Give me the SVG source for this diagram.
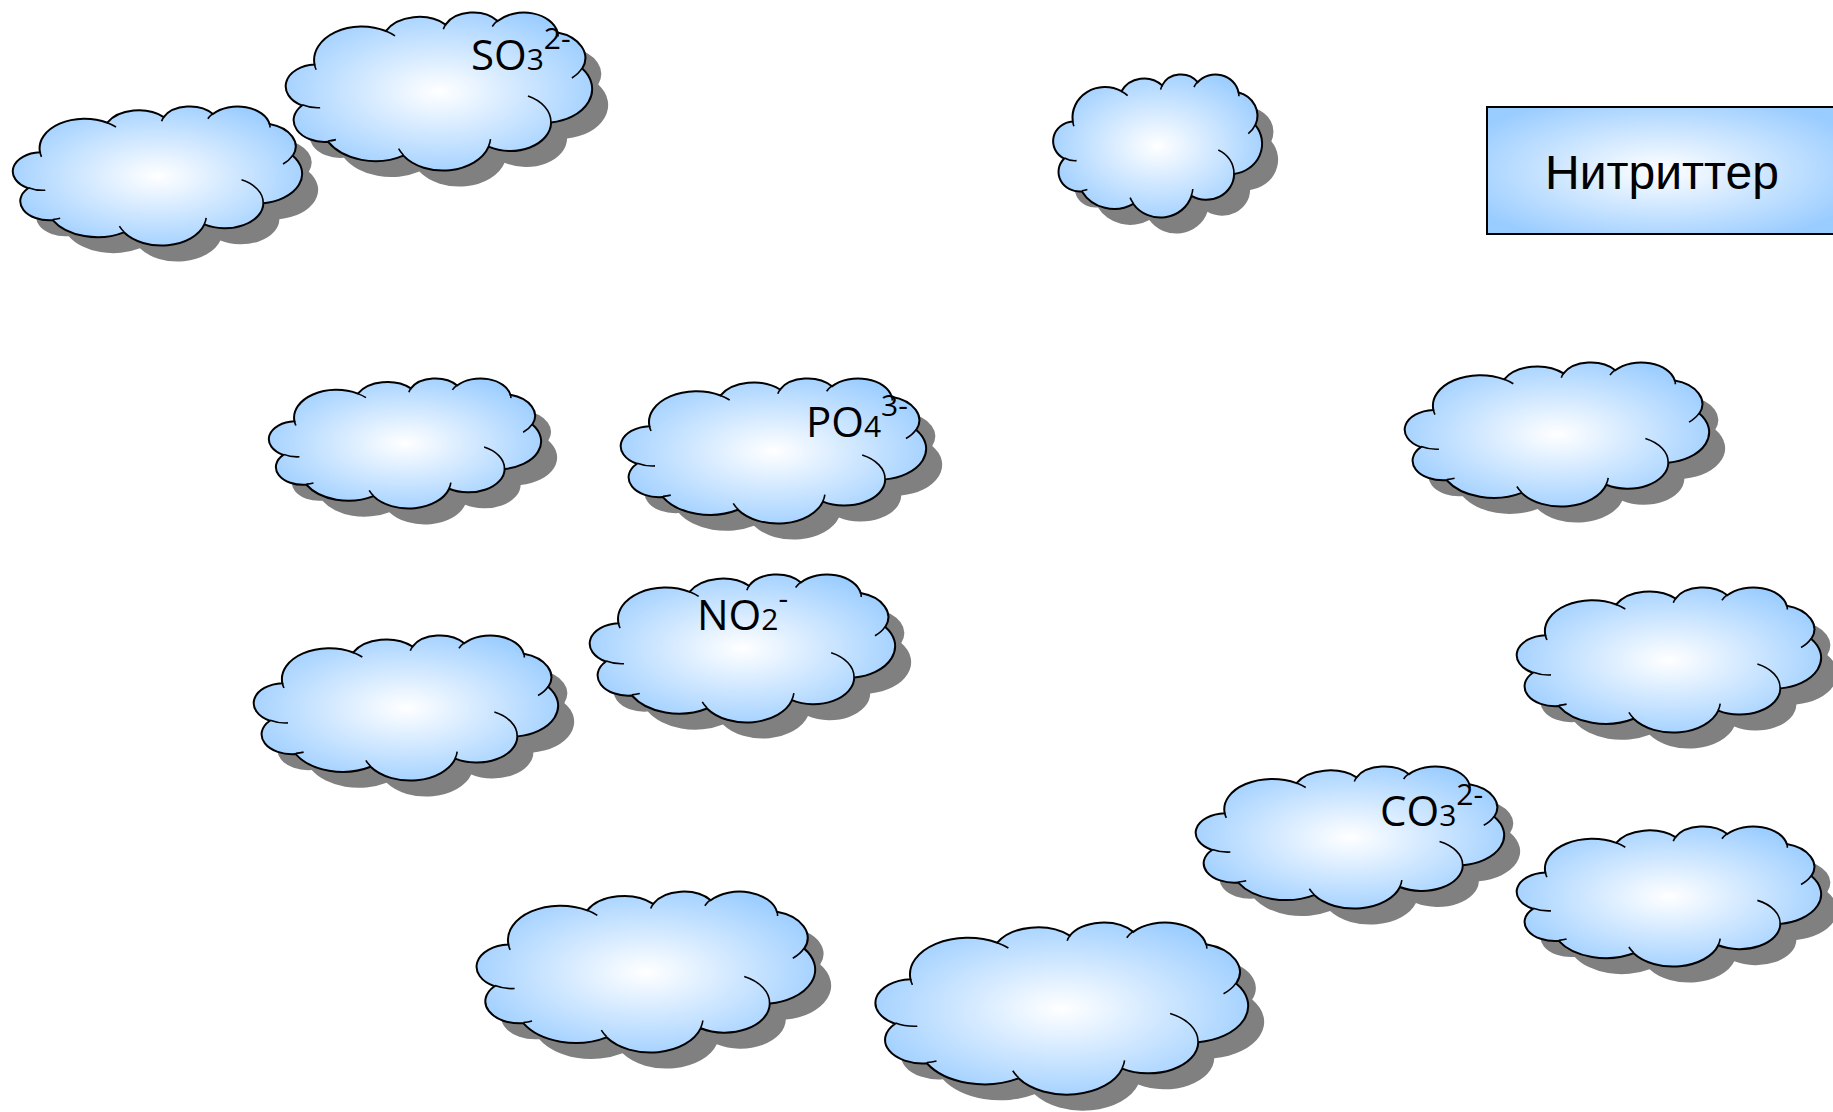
<svg xmlns="http://www.w3.org/2000/svg" xmlns:xlink="http://www.w3.org/1999/xlink" width="1833" height="1112" viewBox="0 0 1833 1112">
<style>
.shadow{fill:#808080;stroke:none}
.body{fill:url(#cg);stroke:#000;stroke-width:2}
.detail{fill:none;stroke:#000;stroke-width:1.6}
.ion{font-family:"Open Sans","DejaVu Sans",sans-serif;font-size:42px;fill:#000}
.small{font-size:30px}
.label{font-family:"Liberation Sans",Arial,sans-serif;font-size:48px;fill:#000;text-anchor:middle}
</style>
<defs>
<radialGradient id="cg" cx="0.5" cy="0.5" r="0.58">
<stop offset="0" stop-color="#FFFFFF"/>
<stop offset="1" stop-color="#99CCFF"/>
</radialGradient>
<radialGradient id="rg" cx="0.5" cy="0.5" r="0.62">
<stop offset="0" stop-color="#FFFFFF"/>
<stop offset="1" stop-color="#99CCFF"/>
</radialGradient>
<path id="cs" vector-effect="non-scaling-stroke" d="M3900 14370A6753 9190 0 0 1 14006 5203A5333 7267 0 0 1 22457 3433A4365 5945 0 0 1 29834 2482A4857 6595 0 0 1 38319 5577A5333 7273 0 0 1 41820 15460A6775 9220 0 0 1 37405 30203A5785 7867 0 0 1 28557 36813A6752 9215 0 0 1 16482 39264A7720 10543 0 0 1 5806 35470A4360 5918 0 0 1 2115 25549A4345 5945 0 0 1 3900 14370Z"/>
<path id="cd" vector-effect="non-scaling-stroke" d="M4693 26177A4345 5945 0 0 1 2160 25380M6928 34899A4360 5918 0 0 1 5820 35280M16478 39090A6752 9215 0 0 1 15810 37350M28827 34751A6752 9215 0 0 1 28560 36660M34129 22954A5785 7867 0 0 1 37380 30090M41798 15354A5333 7273 0 0 1 40351 18030M38324 5426A4857 6595 0 0 1 38400 6689M29078 3952A4857 6595 0 0 1 29820 2338M22141 4720A4365 5945 0 0 1 22500 3330M14000 5192A6753 9190 0 0 1 15299 6540M4127 15789A6753 9190 0 0 1 3900 14370"/>
</defs>

<g id="cloud-a">
<use xlink:href="#cs" class="shadow" transform="translate(30 122) scale(0.0066667 0.0032176)"/>
<use xlink:href="#cs" class="body" transform="translate(14 106) scale(0.0066667 0.0032176)"/>
<use xlink:href="#cd" class="detail" transform="translate(14 106) scale(0.0066667 0.0032176)"/>
</g>
<g id="cloud-so3">
<use xlink:href="#cs" class="shadow" transform="translate(303 28) scale(0.0070602 0.0036574)"/>
<use xlink:href="#cs" class="body" transform="translate(287 12) scale(0.0070602 0.0036574)"/>
<use xlink:href="#cd" class="detail" transform="translate(287 12) scale(0.0070602 0.0036574)"/>
<text class="ion" x="471" y="70">SO<tspan class="small">3</tspan><tspan class="small" dy="-21">2-</tspan></text>
</g>
<g id="cloud-c">
<use xlink:href="#cs" class="shadow" transform="translate(1070 90) scale(0.0048148 0.0033102)"/>
<use xlink:href="#cs" class="body" transform="translate(1054 74) scale(0.0048148 0.0033102)"/>
<use xlink:href="#cd" class="detail" transform="translate(1054 74) scale(0.0048148 0.0033102)"/>
</g>
<g id="cloud-d">
<use xlink:href="#cs" class="shadow" transform="translate(286 394) scale(0.0062731 0.0030093)"/>
<use xlink:href="#cs" class="body" transform="translate(270 378) scale(0.0062731 0.0030093)"/>
<use xlink:href="#cd" class="detail" transform="translate(270 378) scale(0.0062731 0.0030093)"/>
</g>
<g id="cloud-po4">
<use xlink:href="#cs" class="shadow" transform="translate(638 394) scale(0.0070370 0.0033565)"/>
<use xlink:href="#cs" class="body" transform="translate(622 378) scale(0.0070370 0.0033565)"/>
<use xlink:href="#cd" class="detail" transform="translate(622 378) scale(0.0070370 0.0033565)"/>
<text class="ion" x="806" y="437">PO<tspan class="small">4</tspan><tspan class="small" dy="-21">3-</tspan></text>
</g>
<g id="cloud-f">
<use xlink:href="#cs" class="shadow" transform="translate(1422 378) scale(0.0070139 0.0033333)"/>
<use xlink:href="#cs" class="body" transform="translate(1406 362) scale(0.0070139 0.0033333)"/>
<use xlink:href="#cd" class="detail" transform="translate(1406 362) scale(0.0070139 0.0033333)"/>
</g>
<g id="cloud-g">
<use xlink:href="#cs" class="shadow" transform="translate(271 651) scale(0.0070139 0.0033565)"/>
<use xlink:href="#cs" class="body" transform="translate(255 635) scale(0.0070139 0.0033565)"/>
<use xlink:href="#cd" class="detail" transform="translate(255 635) scale(0.0070139 0.0033565)"/>
</g>
<g id="cloud-no2">
<use xlink:href="#cs" class="shadow" transform="translate(607 590) scale(0.0070370 0.0034259)"/>
<use xlink:href="#cs" class="body" transform="translate(591 574) scale(0.0070370 0.0034259)"/>
<use xlink:href="#cd" class="detail" transform="translate(591 574) scale(0.0070370 0.0034259)"/>
<text class="ion" x="697" y="630">NO<tspan class="small">2</tspan><tspan class="small" dy="-21">-</tspan></text>
</g>
<g id="cloud-i">
<use xlink:href="#cs" class="shadow" transform="translate(1534 603) scale(0.0070139 0.0033565)"/>
<use xlink:href="#cs" class="body" transform="translate(1518 587) scale(0.0070139 0.0033565)"/>
<use xlink:href="#cd" class="detail" transform="translate(1518 587) scale(0.0070139 0.0033565)"/>
</g>
<g id="cloud-co3">
<use xlink:href="#cs" class="shadow" transform="translate(1213 782) scale(0.0071065 0.0032870)"/>
<use xlink:href="#cs" class="body" transform="translate(1197 766) scale(0.0071065 0.0032870)"/>
<use xlink:href="#cd" class="detail" transform="translate(1197 766) scale(0.0071065 0.0032870)"/>
<text class="ion" x="1380" y="826">CO<tspan class="small">3</tspan><tspan class="small" dy="-21">2-</tspan></text>
</g>
<g id="cloud-k">
<use xlink:href="#cs" class="shadow" transform="translate(1534 842) scale(0.0070139 0.0032407)"/>
<use xlink:href="#cs" class="body" transform="translate(1518 826) scale(0.0070139 0.0032407)"/>
<use xlink:href="#cd" class="detail" transform="translate(1518 826) scale(0.0070139 0.0032407)"/>
</g>
<g id="cloud-l">
<use xlink:href="#cs" class="shadow" transform="translate(494 907) scale(0.0078009 0.0037269)"/>
<use xlink:href="#cs" class="body" transform="translate(478 891) scale(0.0078009 0.0037269)"/>
<use xlink:href="#cd" class="detail" transform="translate(478 891) scale(0.0078009 0.0037269)"/>
</g>
<g id="cloud-m">
<use xlink:href="#cs" class="shadow" transform="translate(893 938) scale(0.0085880 0.0039815)"/>
<use xlink:href="#cs" class="body" transform="translate(877 922) scale(0.0085880 0.0039815)"/>
<use xlink:href="#cd" class="detail" transform="translate(877 922) scale(0.0085880 0.0039815)"/>
</g>

<g id="nitrites">
<rect x="1487" y="107" width="348" height="127" fill="url(#rg)" stroke="#000" stroke-width="2"/>
<text class="label" x="1662" y="189">Нитриттер</text>
</g>

<g id="connectors"></g>
</svg>
